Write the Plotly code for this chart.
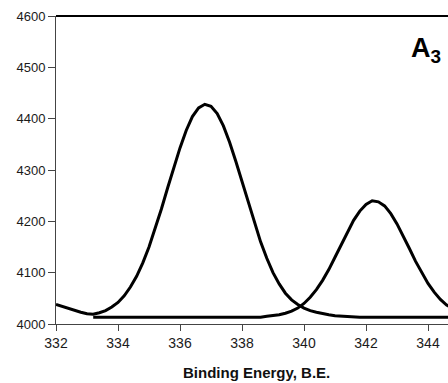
import plotly.graph_objects as go

# Binding energy axis (eV)
be = [332.0, 332.2, 332.4, 332.6, 332.8, 333.0, 333.2, 333.4, 333.6, 333.8,
      334.0, 334.2, 334.4, 334.6, 334.8, 335.0, 335.2, 335.4, 335.6, 335.8,
      336.0, 336.2, 336.4, 336.6, 336.8, 337.0, 337.2, 337.4, 337.6, 337.8,
      338.0, 338.2, 338.4, 338.6, 338.8, 339.0, 339.2, 339.4, 339.6, 339.8,
      340.0, 340.2, 340.4, 340.6, 340.8, 341.0, 341.2, 341.4, 341.6, 341.8,
      342.0, 342.2, 342.4, 342.6, 342.8, 343.0, 343.2, 343.4, 343.6, 343.8,
      344.0, 344.2, 344.4, 344.6, 344.8, 345.0]

# First fitted component (peak near 336.8 eV)
peak1 = [4038, 4034, 4030, 4027, 4023, 4020, 4019, 4022, 4026, 4033,
         4042, 4055, 4072, 4093, 4119, 4150, 4186, 4224, 4265, 4305,
         4343, 4377, 4404, 4421, 4428, 4424, 4410, 4386, 4354, 4317,
         4277, 4236, 4197, 4160, 4128, 4100, 4078, 4060, 4047, 4038,
         4031, 4026, 4023, 4020, 4018, 4016, 4015, 4014, 4013, 4013,
         4013, 4013, 4013, 4013, 4013, 4013, 4013, 4013, 4013, 4013,
         4013, 4013, 4013, 4013, 4013, 4013]

# Second fitted component (peak near 342.1 eV)
be2 = be[6:]
peak2 = [4013, 4013, 4013, 4013, 4013, 4013, 4013, 4013, 4013, 4013,
         4013, 4013, 4013, 4013, 4013, 4013, 4013, 4013, 4013, 4013,
         4013, 4013, 4013, 4013, 4013, 4013, 4013, 4013,
         4015, 4016, 4018, 4021, 4025, 4031, 4040,
         4052, 4067, 4085, 4106, 4130, 4154, 4179, 4202, 4220, 4233,
         4240, 4238, 4230, 4215, 4195, 4172, 4147, 4122, 4099, 4079,
         4062, 4048, 4037, 4029, 4023, 4020]

x_ticks = [332, 334, 336, 338, 340, 342, 344]
y_ticks = [4000, 4100, 4200, 4300, 4400, 4500, 4600]

fig = go.Figure()
fig.add_trace(go.Scatter(x=be, y=peak1, mode="lines",
                         line=dict(color="black", width=3), showlegend=False))
fig.add_trace(go.Scatter(x=be2, y=peak2, mode="lines",
                         line=dict(color="black", width=3), showlegend=False))

fam = "Liberation Sans, Arial, sans-serif"

fig.update_layout(
    width=448, height=383,
    margin=dict(l=56, r=0, t=16, b=59),
    paper_bgcolor="white", plot_bgcolor="white",
    xaxis=dict(range=[332, 344.645], tickvals=x_ticks, ticks="outside", ticklen=6,
               tickcolor="#444", showline=True, linecolor="#444", linewidth=1,
               showgrid=False, zeroline=False,
               tickfont=dict(family=fam, size=14, color="#1a1a1a")),
    yaxis=dict(range=[4000, 4600], tickvals=y_ticks, ticks="outside", ticklen=7,
               tickcolor="#444", showline=True, linecolor="#444", linewidth=1,
               showgrid=False, zeroline=False,
               tickfont=dict(family=fam, size=13, color="#1a1a1a")),
    shapes=[dict(type="line", xref="paper", yref="paper", x0=0, x1=1, y0=1, y1=1,
                 line=dict(color="black", width=2))],
    annotations=[
        dict(text="<b>Binding Energy, B.E.</b>", xref="paper", yref="paper",
             x=0.5115, y=-0.159, showarrow=False, xanchor="center", yanchor="middle",
             font=dict(family=fam, size=15, color="#111")),
        dict(text="<b>A<sub>3</sub></b>", xref="paper", yref="paper",
             x=0.944, y=0.89, showarrow=False, xanchor="center", yanchor="middle",
             font=dict(family=fam, size=27, color="black")),
    ],
)

fig.write_html("out.html")
